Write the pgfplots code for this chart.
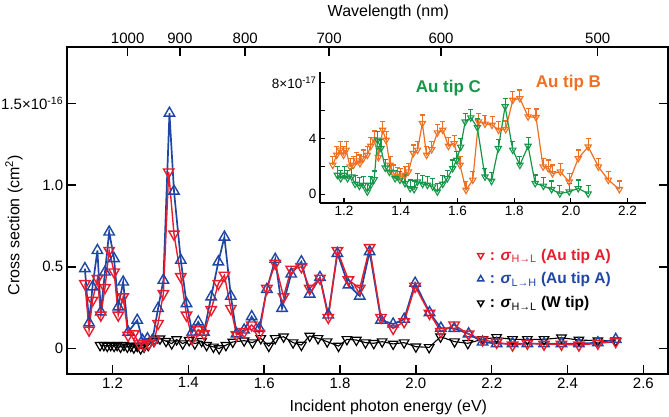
\documentclass[border=0pt]{standalone}
\usepackage{fontspec}
\setmainfont{Liberation Sans}
\usepackage{pgfplots}
\pgfplotsset{compat=1.18}
\definecolor{cblue}{RGB}{30,70,165}
\definecolor{cred}{RGB}{232,28,45}
\definecolor{corange}{RGB}{238,112,32}
\definecolor{cgreen}{RGB}{22,150,72}
\begin{document}
\begin{tikzpicture}
\path[use as bounding box] (0pt,0pt) rectangle (669pt,416pt);
% ---------------- main axis ----------------
\begin{axis}[
  at={(66.7pt,42pt)}, anchor=south west, scale only axis,
  width=601.3pt, height=327pt,
  xmin=1.079, xmax=2.665, ymin=-0.156, ymax=1.845,
  axis line style={line width=1.8pt},
  xtick={1.2,1.4,1.6,1.8,2.0,2.2,2.4,2.6},
  xticklabels={1.2,1.4,1.6,1.8,2.0,2.2,2.4,2.6},
  xtick pos=bottom,
  ytick={0,0.5,1.0,1.5},
  yticklabels={0,0.5,1.0,{1.5×10\textsuperscript{-16}}},
  tick align=inside, major tick length=9pt,
  tick style={line width=1.5pt, black},
  tick label style={font=\fontsize{15}{18}\selectfont},
  xlabel={Incident photon energy (eV)},
  ylabel={Cross section (cm\textsuperscript{2})},
  label style={font=\fontsize{16}{19}\selectfont},
  xlabel style={at={(axis description cs:0.5,0)}, anchor=base, yshift=-37pt, xshift=21pt},
  ylabel style={at={(axis description cs:-0.0876,0.4557)}, anchor=center},
  legend style={at={(axis description cs:0.683,0.389)}, anchor=north west, draw=none, fill=none,
     font=\fontsize{15.5}{18}\selectfont, row sep=7pt, inner sep=0pt},
  legend cell align=left,
  legend image code/.code={\draw[#1] plot coordinates {(0pt,0pt)};},
]
\addplot[forget plot, black, line width=1.1pt, mark=triangle, mark size=5.5pt, mark options={rotate=180, line width=1.2pt}] table {
1.167 0.02
1.177 0.02
1.186 0.015
1.195 0.02
1.204 0.015
1.212 0.02
1.221 0.01
1.230 0.02
1.239 0.01
1.248 0.015
1.256 0.005
1.265 0.015
1.274 0.0
1.283 0.01
1.294 0.02
1.309 0.045
1.325 0.06
1.341 0.045
1.356 0.03
1.369 0.055
1.385 0.03
1.402 0.05
1.417 0.03
1.435 0.045
1.448 0.02
1.466 0.01
1.481 0.0
1.499 0.02
1.517 0.04
1.547 0.048
1.569 0.036
1.591 0.062
1.612 0.015
1.629 0.062
1.651 0.072
1.676 0.036
1.698 0.021
1.720 0.077
1.742 0.062
1.766 0.042
1.796 0.015
1.818 0.056
1.843 0.052
1.867 0.036
1.889 0.032
1.911 0.042
1.940 0.028
1.969 0.036
2.000 0.011
2.035 0.007
2.065 0.072
2.102 0.042
2.137 0.032
2.176 0.056
2.213 0.068
2.255 0.056
2.294 0.056
2.338 0.056
2.384 0.066
2.430 0.052
2.480 0.048
2.527 0.048
};
\addplot[forget plot, cblue, line width=1.7pt, mark=triangle, mark size=6pt, mark options={line width=1.4pt}] table {
1.127 0.489
1.138 0.157
1.147 0.377
1.160 0.600
1.169 0.224
1.180 0.468
1.191 0.713
1.204 0.550
1.215 0.255
1.228 0.407
1.241 0.100
1.265 0.173
1.279 0.050
1.292 0.060
1.305 0.050
1.320 0.245
1.334 0.418
1.350 1.440
1.362 0.963
1.380 0.540
1.395 0.275
1.410 0.100
1.426 0.163
1.441 0.100
1.460 0.316
1.479 0.530
1.495 0.682
1.512 0.320
1.527 0.090
1.547 0.113
1.567 0.195
1.587 0.123
1.607 0.362
1.629 0.546
1.647 0.246
1.671 0.456
1.698 0.531
1.720 0.333
1.747 0.435
1.769 0.205
1.793 0.582
1.822 0.389
1.852 0.321
1.878 0.593
1.908 0.174
1.940 0.150
1.969 0.179
1.998 0.400
2.036 0.220
2.066 0.125
2.101 0.123
2.139 0.090
2.176 0.040
2.213 0.030
2.255 0.030
2.294 0.030
2.338 0.030
2.384 0.030
2.430 0.030
2.480 0.035
2.527 0.056
};
\addplot[forget plot, cred, line width=1.4pt, mark=triangle, mark size=6pt, mark options={rotate=180, line width=1.4pt}] table {
1.127 0.397
1.138 0.112
1.147 0.295
1.160 0.428
1.169 0.204
1.180 0.373
1.191 0.600
1.204 0.468
1.215 0.204
1.228 0.316
1.241 0.080
1.256 0.090
1.270 0.030
1.283 0.020
1.296 0.030
1.310 0.050
1.320 0.153
1.334 0.336
1.348 1.080
1.362 0.700
1.380 0.440
1.395 0.204
1.410 0.060
1.426 0.116
1.441 0.090
1.460 0.238
1.479 0.397
1.495 0.448
1.512 0.245
1.527 0.083
1.547 0.103
1.567 0.144
1.587 0.093
1.607 0.368
1.629 0.521
1.651 0.317
1.671 0.485
1.698 0.500
1.720 0.368
1.747 0.430
1.769 0.190
1.793 0.599
1.822 0.420
1.852 0.368
1.878 0.617
1.908 0.190
1.940 0.123
1.969 0.164
1.998 0.380
2.036 0.215
2.066 0.103
2.101 0.144
2.139 0.088
2.176 0.052
2.213 0.038
2.255 0.021
2.294 0.032
2.338 0.026
2.384 0.026
2.430 0.021
2.480 0.032
2.527 0.042
};
\addlegendimage{only marks, mark=triangle, mark size=3.6pt, mark options={rotate=180, draw=cred, line width=1.4pt}}
\addlegendentry{\textcolor{cred}{\hspace{4pt}\textbf{: \textit{σ}}\textsubscript{H→L} \textbf{(Au tip A)}}}
\addlegendimage{only marks, mark=triangle, mark size=3.6pt, mark options={draw=cblue, line width=1.4pt}}
\addlegendentry{\textcolor{cblue}{\hspace{4pt}\textbf{: \textit{σ}}\textsubscript{L→H} \textbf{(Au tip A)}}}
\addlegendimage{only marks, mark=triangle, mark size=3.6pt, mark options={rotate=180, draw=black, line width=1.4pt}}
\addlegendentry{\textcolor{black}{\hspace{4pt}\textbf{: \textit{σ}}\textsubscript{H→L} \textbf{(W tip)}}}
\end{axis}
% ---------------- top wavelength axis ----------------
\begin{axis}[
  at={(66.7pt,42pt)}, anchor=south west, scale only axis,
  width=601.3pt, height=327pt,
  xmin=1.079, xmax=2.665, ymin=-0.156, ymax=1.845,
  axis x line*=top, hide y axis,
  axis line style={line width=1.8pt},
  xtick={1.23984,1.37760,1.54980,1.77120,2.06640,2.47968},
  xticklabels={1000,900,800,700,600,500},
  tick align=inside, major tick length=9pt,
  tick style={line width=1.5pt, black},
  tick label style={font=\fontsize{15}{18}\selectfont},
  xlabel={Wavelength (nm)},
  label style={font=\fontsize{16}{19}\selectfont},
  xlabel style={at={(axis description cs:0.5,1)}, anchor=base, yshift=30pt, xshift=21pt},
]
\addplot[draw=none] coordinates {(1.5,0)};
\end{axis}
% ---------------- inset ----------------
\begin{axis}[
  at={(320pt,213pt)}, anchor=south west, scale only axis,
  width=326pt, height=131.3pt,
  xmin=1.115, xmax=2.265, ymin=-0.62, ymax=8.79,
  axis x line*=bottom, axis y line*=left,
  axis line style={line width=1.3pt, -},
  xtick={1.2,1.4,1.6,1.8,2.0,2.2},
  xticklabels={1.2,1.4,1.6,1.8,2.0,2.2},
  ytick={0,2,4,6,8},
  yticklabels={0,,4,,{8×10\textsuperscript{-17}}},
  tick align=inside, major tick length=5pt,
  tick style={line width=1.2pt, black},
  tick label style={font=\fontsize{13.5}{16}\selectfont},
]
\addplot[corange, line width=1.2pt, mark=triangle, mark size=3.6pt, mark options={rotate=180, line width=1.1pt},
  error bars/.cd, y dir=plus, y fixed=0.6, error bar style={line width=1.1pt, corange}, error mark options={rotate=90, mark size=2.5pt, line width=1.1pt}] table {
1.160 2.10
1.174 2.82
1.186 3.18
1.198 2.82
1.207 3.18
1.221 1.98
1.233 2.10
1.245 2.41
1.256 2.22
1.268 2.58
1.282 2.82
1.294 3.46
1.306 3.94
1.321 2.65
1.336 4.61
1.348 3.89
1.362 2.10
1.374 1.50
1.388 1.31
1.400 1.26
1.415 1.38
1.427 1.62
1.444 2.94
1.459 3.18
1.476 5.09
1.491 2.82
1.509 3.22
1.529 4.42
1.548 4.61
1.568 3.46
1.588 3.65
1.609 2.10
1.630 0.31
1.654 1.03
1.674 5.21
1.697 5.05
1.722 4.97
1.745 4.61
1.770 4.66
1.795 6.76
1.820 6.88
1.849 5.57
1.877 5.52
1.902 1.98
1.920 1.86
1.935 1.50
1.963 1.62
1.994 0.90
2.026 2.58
2.061 3.41
2.097 1.98
2.132 1.03
2.171 0.36
};
\addplot[cgreen, line width=1.2pt, mark=triangle, mark size=3.6pt, mark options={rotate=180, line width=1.1pt},
  error bars/.cd, y dir=plus, y fixed=0.6, error bar style={line width=1.1pt, cgreen}, error mark options={rotate=90, mark size=2.5pt, line width=1.1pt}] table {
1.176 1.38
1.188 1.14
1.200 1.38
1.212 1.14
1.227 1.26
1.239 0.74
1.254 0.60
1.268 0.67
1.282 0.19
1.294 0.67
1.306 1.07
1.318 3.90
1.330 3.30
1.345 1.90
1.360 1.60
1.380 1.14
1.397 1.03
1.415 0.79
1.433 0.43
1.447 0.36
1.459 0.91
1.477 0.74
1.494 0.67
1.513 0.55
1.529 0.19
1.548 0.74
1.564 1.14
1.583 1.86
1.597 2.46
1.611 3.40
1.627 5.20
1.647 5.50
1.670 4.80
1.697 1.26
1.720 0.95
1.744 3.30
1.768 6.30
1.795 3.18
1.820 2.10
1.849 3.46
1.874 0.79
1.903 0.60
1.932 0.36
1.961 0.05
1.994 0.19
2.026 0.43
2.061 0.05
};
\node[text=cgreen, font=\bfseries\fontsize{17}{20}\selectfont] at (axis cs:1.568,7.62) {Au tip C};
\node[text=corange, font=\bfseries\fontsize{17}{20}\selectfont] at (axis cs:1.991,7.98) {Au tip B};
\end{axis}
\end{tikzpicture}
\end{document}
